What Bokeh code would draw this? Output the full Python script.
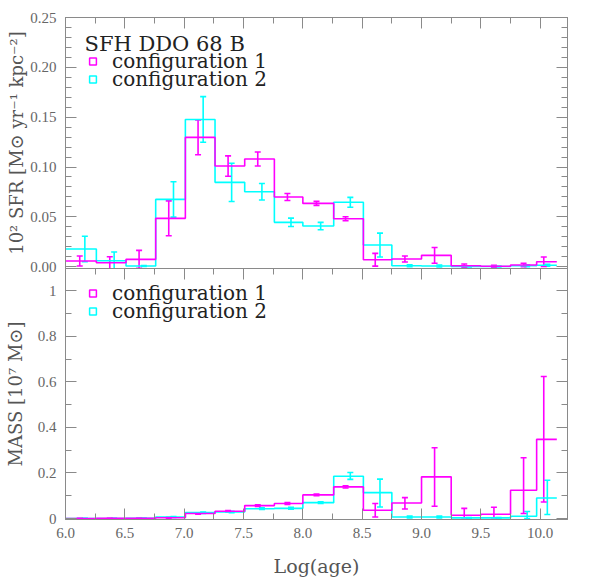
from bokeh.plotting import figure
from bokeh.layouts import column
from bokeh.models import (Range1d, LinearAxis, SingleIntervalTicker, FixedTicker,
                          NumeralTickFormatter, CustomJSTickFormatter, Whisker, TeeHead,
                          ColumnDataSource, Legend, LegendItem, Label)
from bokeh.embed import file_html
from bokeh.resources import INLINE

# ---------------- data ----------------
bin_edges = [6.0, 6.26, 6.51, 6.76, 7.01, 7.26, 7.51, 7.76, 8.0, 8.26, 8.51,
             8.75, 9.0, 9.25, 9.5, 9.75, 9.97, 10.14]
x_err_c1 = [6.12, 6.373, 6.62, 6.87, 7.117, 7.37, 7.62, 7.87, 8.115, 8.36, 8.61,
            8.86, 9.11, 9.36, 9.61, 9.86, 10.03]
x_err_c2 = [6.163, 6.41, 6.66, 6.91, 7.16, 7.40, 7.655, 7.90, 8.15, 8.40, 8.65,
            8.90, 9.15, 9.40, 9.65, 9.89, 10.06]

sfr_c1 = [0.0057, 0.004, 0.0074, 0.0485, 0.1297, 0.101, 0.108, 0.0699, 0.0635,
          0.0481, 0.007, 0.0077, 0.0114, 0.001, 0.0004, 0.0017, 0.005]
sfr_c1_err = [0.005, 0.006, 0.009, 0.0175, 0.0174, 0.0102, 0.007, 0.0035, 0.002,
              0.002, 0.0064, 0.003, 0.0079, 0.0017, 0.001, 0.0017, 0.0047]
sfr_c2 = [0.0177, 0.006, 0.0007, 0.0675, 0.1477, 0.0846, 0.0752, 0.0445, 0.0408,
          0.0646, 0.0217, 0.001, 0.0007, 0.0002, 0.0002, 0.001, 0.0014]
sfr_c2_err = [0.0128, 0.0087, 0.0005, 0.0178, 0.0229, 0.0192, 0.0083, 0.0042, 0.0037,
              0.005, 0.012, 0.001, 0.001, 0.0005, 0.0005, 0.001, 0.001]

mass_c1 = [0.0005, 0.0008, 0.001, 0.004, 0.022, 0.032, 0.057, 0.066, 0.104, 0.139,
           0.0365, 0.0687, 0.183, 0.0145, 0.019, 0.1245, 0.3475]
mass_c1_lo = [0.0, 0.0, 0.0, 0.002, 0.019, 0.029, 0.053, 0.062, 0.100, 0.134,
              0.007, 0.042, 0.054, 0.004, 0.004, 0.022, 0.073]
mass_c1_hi = [0.001, 0.0015, 0.002, 0.006, 0.025, 0.035, 0.061, 0.070, 0.108, 0.144,
              0.066, 0.092, 0.311, 0.045, 0.050, 0.267, 0.623]
mass_c2 = [0.0005, 0.0005, 0.001, 0.007, 0.026, 0.029, 0.043, 0.045, 0.070, 0.186,
           0.114, 0.007, 0.007, 0.003, 0.003, 0.010, 0.0906]
mass_c2_lo = [0.0, 0.0, 0.0, 0.005, 0.023, 0.026, 0.040, 0.041, 0.066, 0.172,
              0.051, 0.003, 0.003, 0.001, 0.001, 0.0, 0.018]
mass_c2_hi = [0.001, 0.001, 0.002, 0.009, 0.029, 0.032, 0.047, 0.049, 0.074, 0.202,
              0.173, 0.011, 0.011, 0.005, 0.005, 0.031, 0.168]

series_labels = ["configuration 1", "configuration 2"]
title_text = "SFH DDO 68 B"
x_label = "Log(age)"
y_label_top = "10² SFR [M⊙ yr⁻¹ kpc⁻²]"
y_label_bottom = "MASS [10⁷ M⊙]"
mass_ticks = [0, 0.2, 0.4, 0.6, 0.8, 1]
mass_tick_labels = ["0", "0.2", "0.4", "0.6", "0.8", "1"]

# ---------------- style ----------------
C1 = "#ff00ff"
C2 = "#00ffff"
AXC = "#8a8a8a"
TICK_FONT = "Liberation Serif"
LABEL_FONT = "DejaVu Serif"
LW = 1.6
NAN = float("nan")

x_range = Range1d(6.0, 10.23)
EMPTY = CustomJSTickFormatter(code="return ''")


def style_axis(ax, show_labels=True, major_in=11, minor_in=6):
    ax.major_tick_in = major_in
    ax.major_tick_out = 0
    ax.minor_tick_in = minor_in
    ax.minor_tick_out = 0
    ax.axis_line_color = AXC
    ax.major_tick_line_color = AXC
    ax.minor_tick_line_color = AXC
    ax.major_label_text_font = TICK_FONT
    ax.major_label_text_font_size = "15px"
    ax.major_label_text_color = "#666666"
    ax.axis_label_text_font = LABEL_FONT
    ax.axis_label_text_font_style = "normal"
    ax.axis_label_text_color = "#555555"
    ax.axis_label_text_font_size = "18px"
    if not show_labels:
        ax.formatter = EMPTY
        ax.major_label_standoff = 0
        ax.axis_label = None


def base_fig(yr, border_top, border_bottom, x_axis=True):
    p = figure(frame_width=502, frame_height=251, x_range=x_range, y_range=yr,
               output_backend="svg", toolbar_location=None,
               x_axis_location="below" if x_axis else None,
               min_border_left=65, min_border_right=25,
               min_border_top=border_top, min_border_bottom=border_bottom)
    p.xgrid.visible = False
    p.ygrid.visible = False
    p.outline_line_color = AXC
    p.background_fill_color = "white"
    p.border_fill_color = "white"
    return p


def add_mirror_axes(p, xt, yt):
    top = LinearAxis(ticker=xt)
    style_axis(top, show_labels=False)
    p.add_layout(top, "above")
    right = LinearAxis(ticker=yt)
    style_axis(right, show_labels=False)
    p.add_layout(right, "right")


def add_errors(p, xs, lo, hi, color):
    src = ColumnDataSource(dict(x=xs, lower=lo, upper=hi))
    w = Whisker(base="x", lower="lower", upper="upper", source=src,
                dimension="height", line_color=color, line_width=LW,
                upper_head=TeeHead(size=6, line_color=color, line_width=LW),
                lower_head=TeeHead(size=6, line_color=color, line_width=LW))
    p.add_layout(w)


def add_legend(p, locs, title=None, title_y=None):
    for label, color, loc in zip(series_labels, [C1, C2], locs):
        r = p.scatter(x=[NAN], y=[NAN], marker="square", size=7, fill_alpha=0,
                      line_color=color, line_width=1.5)
        leg = Legend(items=[LegendItem(label=label, renderers=[r])],
                     location=loc, margin=0, padding=0, spacing=0,
                     glyph_width=17, glyph_height=18, label_height=18,
                     label_standoff=11,
                     label_text_font=LABEL_FONT, label_text_font_size="20px",
                     label_text_color="#222222",
                     background_fill_alpha=0, border_line_alpha=0)
        p.add_layout(leg)
    if title:
        p.add_layout(Label(x=19, y=title_y, x_units="screen", y_units="screen",
                           text=title, text_font=LABEL_FONT, text_font_size="21px",
                           text_color="#222222", text_baseline="middle"))


# ---------------- top panel: SFR ----------------
xt1 = SingleIntervalTicker(interval=0.5, num_minor_ticks=2)
yt1 = SingleIntervalTicker(interval=0.05, num_minor_ticks=5)
p1 = base_fig(Range1d(-0.0018, 0.25), 17, 8, x_axis=False)
p1.margin = (0, 0, -8, 0)
p1.yaxis.ticker = yt1
style_axis(p1.yaxis[0])
p1.yaxis.formatter = NumeralTickFormatter(format="0.00")
p1.yaxis.axis_label = y_label_top
p1.yaxis.axis_label_standoff = 0
p1.yaxis.major_label_standoff = 9
add_mirror_axes(p1, xt1, yt1)

p1.step(x=bin_edges, y=sfr_c2 + sfr_c2[-1:], mode="after", line_color=C2, line_width=LW)
p1.step(x=bin_edges, y=sfr_c1 + sfr_c1[-1:], mode="after", line_color=C1, line_width=LW)
add_errors(p1, x_err_c2, [v - e for v, e in zip(sfr_c2, sfr_c2_err)],
           [v + e for v, e in zip(sfr_c2, sfr_c2_err)], C2)
add_errors(p1, x_err_c1, [v - e for v, e in zip(sfr_c1, sfr_c1_err)],
           [v + e for v, e in zip(sfr_c1, sfr_c1_err)], C1)
add_legend(p1, [(19, 195), (19, 177)], title=title_text, title_y=225)

# ---------------- bottom panel: MASS ----------------
xt2 = SingleIntervalTicker(interval=0.5, num_minor_ticks=2)
yt2 = FixedTicker(ticks=mass_ticks, minor_ticks=[0.1, 0.3, 0.5, 0.7, 0.9])
p2 = base_fig(Range1d(-0.004, 1.097), 0, 60)
p2.background_fill_alpha = 0
p2.border_fill_alpha = 0
p2.xaxis.ticker = xt2
p2.yaxis.ticker = yt2
style_axis(p2.xaxis[0])
style_axis(p2.yaxis[0])
p2.xaxis.formatter = NumeralTickFormatter(format="0.0")
p2.yaxis.major_label_overrides = {t: l for t, l in zip(mass_ticks, mass_tick_labels)}
p2.xaxis.axis_label = x_label
p2.xaxis.axis_label_text_font_size = "19px"
p2.xaxis.major_label_standoff = 8
p2.xaxis.axis_label_standoff = 14
p2.yaxis.axis_label = y_label_bottom
p2.yaxis.axis_label_standoff = 9
p2.yaxis.major_label_standoff = 9
add_mirror_axes(p2, xt2, yt2)

p2.step(x=bin_edges, y=mass_c2 + mass_c2[-1:], mode="after", line_color=C2, line_width=LW)
p2.step(x=bin_edges, y=mass_c1 + mass_c1[-1:], mode="after", line_color=C1, line_width=LW)
add_errors(p2, x_err_c2, mass_c2_lo, mass_c2_hi, C2)
add_errors(p2, x_err_c1, mass_c1_lo, mass_c1_hi, C1)
add_legend(p2, [(19, 214), (19, 196)])

layout = column(p1, p2, spacing=0)
open("out.html", "w").write(file_html(layout, INLINE))
